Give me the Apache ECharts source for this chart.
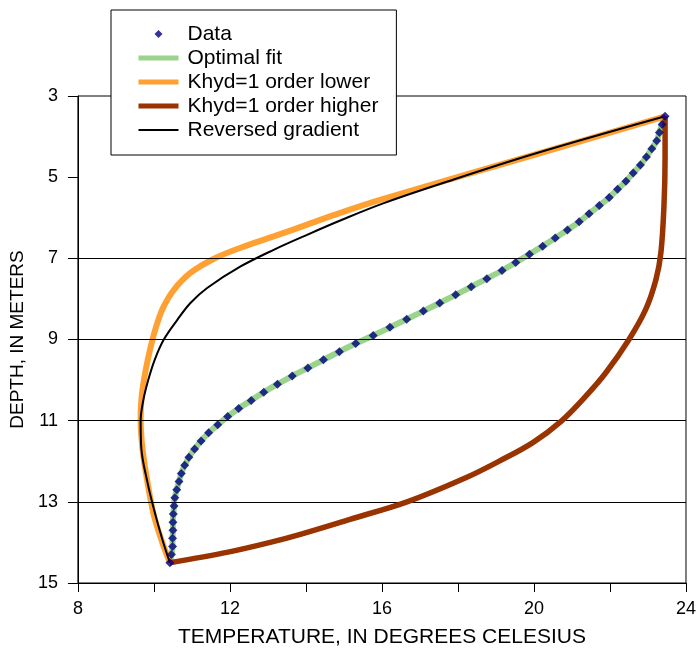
<!DOCTYPE html>
<html>
<head>
<meta charset="UTF-8">
<title>Temperature vs depth</title>
<script src="https://cdn.jsdelivr.net/npm/echarts@6/dist/echarts.min.js"></script>
<style>html,body{margin:0;padding:0;background:#fff;}</style>
</head>
<body>
<div id="main" style="width:699px;height:653px;"></div>
<script>
// measured profile (depth in m, temperature in deg C)
var dataDepth = [3.5, 3.7, 3.9, 4.1, 4.3, 4.5, 4.7, 4.9, 5.1, 5.3, 5.5, 5.7, 5.9, 6.1, 6.3, 6.5, 6.7, 6.9, 7.1, 7.3,
  7.5, 7.7, 7.9, 8.1, 8.3, 8.5, 8.7, 8.9, 9.1, 9.3, 9.5, 9.7, 9.9, 10.1, 10.3, 10.5, 10.7, 10.9, 11.1, 11.3,
  11.5, 11.7, 11.9, 12.1, 12.3, 12.5, 12.7, 12.9, 13.1, 13.3, 13.5, 13.7, 13.9, 14.1, 14.3, 14.5];
var dataTemp = [23.45, 23.37, 23.30, 23.23, 23.10, 22.96, 22.80, 22.61, 22.42, 22.20, 21.98, 21.72, 21.45, 21.19, 20.88, 20.56, 20.23, 19.88, 19.52, 19.16,
  18.76, 18.35, 17.94, 17.52, 17.09, 16.65, 16.21, 15.77, 15.31, 14.88, 14.46, 14.05, 13.64, 13.25, 12.89, 12.56, 12.23, 11.94, 11.68, 11.44,
  11.24, 11.07, 10.92, 10.81, 10.72, 10.66, 10.60, 10.55, 10.53, 10.51, 10.50, 10.50, 10.49, 10.49, 10.46, 10.42];

// Khyd one order lower
var lowerDepth = [3.5, 4.46, 5.56, 5.88, 6.17, 6.46, 6.74, 7.01, 7.36, 7.77, 8.18, 8.59, 9.01, 9.49, 9.98, 10.47, 10.97, 11.7, 12.52, 13.34, 14.0, 14.5];
var lowerTemp = [23.45, 19.97, 15.95, 14.90, 14.03, 13.15, 12.28, 11.58, 10.96, 10.53, 10.26, 10.09, 9.96, 9.84, 9.74, 9.67, 9.65, 9.70, 9.83, 10.00, 10.22, 10.42];

// Khyd one order higher
var higherDepth = [3.5, 4.49, 5.72, 6.86, 7.52, 8.26, 9.0, 9.82, 10.39, 11.01, 11.54, 11.99, 12.4, 13.0, 13.43, 13.8, 14.0, 14.24, 14.5];
var higherTemp = [23.45, 23.45, 23.42, 23.34, 23.21, 22.94, 22.50, 21.89, 21.37, 20.72, 19.97, 19.10, 18.22, 16.66, 15.16, 13.85, 13.06, 11.95, 10.42];

// reversed gradient
var reversedDepth = [3.5, 4.4, 5.1, 5.64, 6.05, 6.42, 6.79, 7.2, 7.73, 8.1, 8.51, 9.0, 9.5, 10.0, 10.5, 11.0, 11.7, 12.52, 13.18, 13.92, 14.5];
var reversedTemp = [23.45, 20.1, 17.75, 16.05, 14.95, 14.03, 13.15, 12.28, 11.40, 10.96, 10.62, 10.26, 10.02, 9.85, 9.72, 9.65, 9.67, 9.83, 10.00, 10.22, 10.42];

// depths that carry a horizontal grid line
var gridDepths = [7, 9, 11, 13];

var legendNames = ['Data', 'Optimal fit', 'Khyd=1 order lower', 'Khyd=1 order higher', 'Reversed gradient'];

function pairs(t, d) {
  return t.map(function (v, i) { return [v, d[i]]; });
}

var chart = echarts.init(document.getElementById('main'));
var font = 'Liberation Sans, Arial, sans-serif';

// small diamond sitting in the middle of the 40px legend slot
var diamondIcon = 'path://M0,4L0.05,4L0.05,4.05L0,4.05Z M16,4L20,0L24,4L20,8Z M39.95,4L40,4L40,4.05L39.95,4.05Z';

var option = {
  backgroundColor: '#fff',
  animation: false,
  textStyle: { fontFamily: font, color: '#000' },
  grid: {
    left: 77, right: 12, top: 96, bottom: 69,
    show: true, borderColor: '#000', borderWidth: 1
  },
  legend: {
    orient: 'vertical',
    left: 111, top: 10,
    backgroundColor: '#fff',
    borderColor: '#000',
    borderWidth: 1,
    padding: [12, 18, 13, 25],
    itemWidth: 40,
    itemHeight: 8,
    itemGap: 0,
    z: 10,
    textStyle: { fontSize: 21, lineHeight: 24, color: '#000', fontFamily: font, padding: [0, 0, 0, 4] },
    data: [
      { name: legendNames[0], icon: diamondIcon },
      { name: legendNames[1], itemStyle: { opacity: 0 }, lineStyle: { width: 5 } },
      { name: legendNames[2], itemStyle: { opacity: 0 }, lineStyle: { width: 5 } },
      { name: legendNames[3], itemStyle: { opacity: 0 }, lineStyle: { width: 5 } },
      { name: legendNames[4], itemStyle: { opacity: 0 }, lineStyle: { width: 2 } }
    ]
  },
  xAxis: {
    type: 'value',
    min: 8, max: 24, interval: 2,
    name: 'TEMPERATURE, IN DEGREES CELESIUS',
    nameLocation: 'middle',
    nameGap: 44,
    nameTextStyle: { fontSize: 21, color: '#000', fontFamily: font },
    axisLine: { lineStyle: { color: '#000', width: 1 } },
    axisTick: { show: true, inside: false, length: 9, lineStyle: { color: '#000' } },
    axisLabel: {
      fontSize: 18, color: '#000', margin: 17,
      formatter: function (v) { return v % 4 === 0 ? String(v) : ''; }
    },
    splitLine: { show: false }
  },
  yAxis: {
    type: 'value',
    inverse: true,
    min: 3, max: 15, interval: 2,
    name: 'DEPTH, IN METERS',
    nameLocation: 'middle',
    nameRotate: 90,
    nameGap: 48,
    nameTextStyle: { fontSize: 19, color: '#000', fontFamily: font },
    axisLine: { lineStyle: { color: '#000', width: 1 } },
    axisTick: { show: true, inside: false, length: 10, lineStyle: { color: '#000' } },
    axisLabel: { fontSize: 18, color: '#000', margin: 20 },
    splitLine: { show: false }
  },
  series: [
    {
      name: legendNames[1], type: 'line', symbol: 'none', smooth: 0.35, z: 2,
      lineStyle: { color: '#9AD48A', width: 6 }, itemStyle: { color: '#9AD48A' },
      data: pairs(dataTemp, dataDepth),
      markLine: {
        silent: true,
        symbol: ['none', 'none'],
        label: { show: false },
        lineStyle: { color: '#000', width: 1, type: 'solid' },
        data: gridDepths.map(function (d) { return { yAxis: d }; })
      }
    },
    {
      name: legendNames[2], type: 'line', symbol: 'none', smooth: 0.35, z: 3,
      lineStyle: { color: '#FFA033', width: 6 }, itemStyle: { color: '#FFA033' },
      data: pairs(lowerTemp, lowerDepth)
    },
    {
      name: legendNames[4], type: 'line', symbol: 'none', smooth: 0.35, z: 4,
      lineStyle: { color: '#000', width: 2 }, itemStyle: { color: '#000' },
      data: pairs(reversedTemp, reversedDepth)
    },
    {
      name: legendNames[3], type: 'line', symbol: 'none', smooth: 0.35, z: 5,
      lineStyle: { color: '#993300', width: 5.5 }, itemStyle: { color: '#993300' },
      data: pairs(higherTemp, higherDepth)
    },
    {
      name: legendNames[0], type: 'scatter', symbol: 'diamond', symbolSize: 9, z: 6,
      itemStyle: { color: '#000080' },
      data: pairs(dataTemp, dataDepth)
    }
  ]
};

chart.setOption(option);
</script>
</body>
</html>
